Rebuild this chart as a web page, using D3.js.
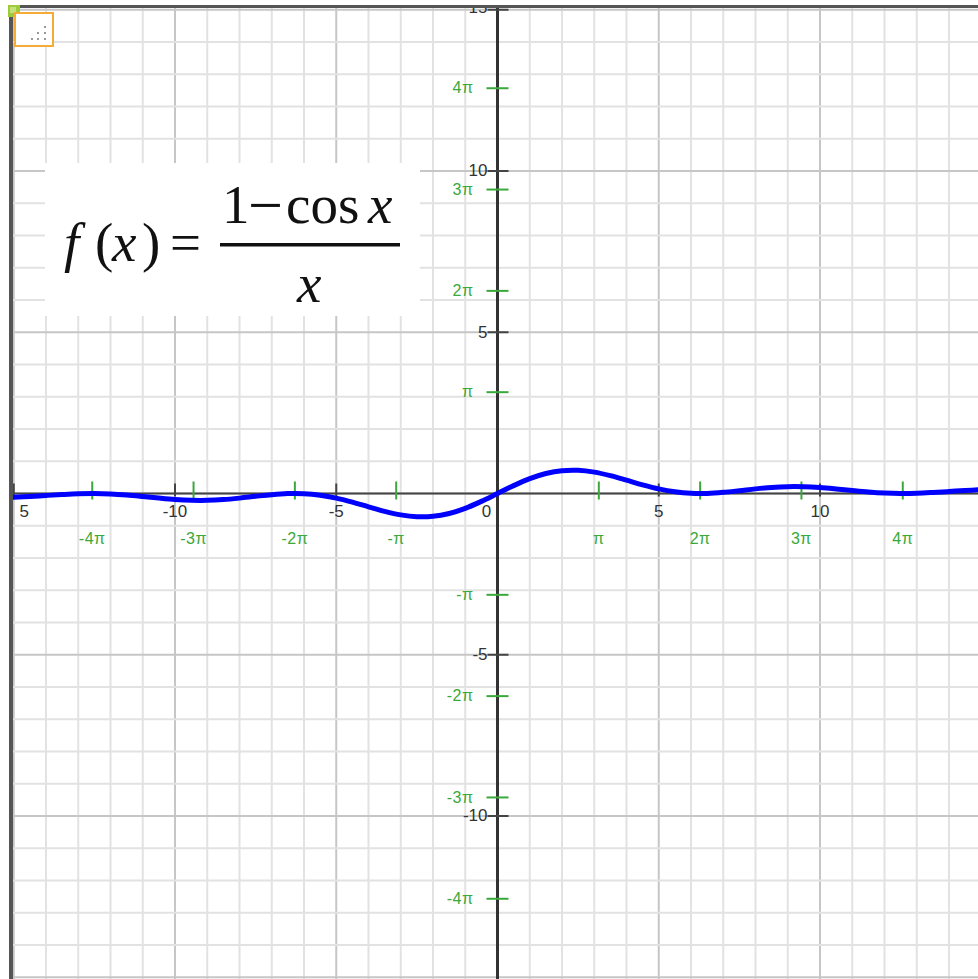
<!DOCTYPE html>
<html>
<head>
<meta charset="utf-8">
<script src="https://cdn.jsdelivr.net/npm/d3@7"></script>
<style>
  html, body { margin: 0; padding: 0; background: #fff; }
  svg { display: block; }
</style>
</head>
<body>
<svg id="chart" width="978" height="979"></svg>
<script>
// Sampled values of f(x) = (1 - cos x) / x
const xValues = [
  -15, -14.5, -14, -13.5, -13, -12.5, -12, -11.5, -11, -10.5, -10, -9.5, -9, -8.5, -8, -7.5,
  -7, -6.5, -6, -5.5, -5, -4.5, -4, -3.5, -3, -2.5, -2, -1.5, -1, -0.5,
  0, 0.5, 1, 1.5, 2, 2.5, 3, 3.5, 4, 4.5, 5, 5.5, 6, 6.5, 7, 7.5,
  8, 8.5, 9, 9.5, 10, 10.5, 11, 11.5, 12, 12.5, 13, 13.5, 14, 14.5, 15
];
const yValues = [
  -0.1173, -0.0938, -0.0617, -0.0311, -0.0071, -0.0002, -0.0130, -0.0451, -0.0905, -0.1405,
  -0.1839, -0.2102, -0.2124, -0.1885, -0.1432, -0.0871, -0.0352, -0.0036, -0.0066, -0.0530,
  -0.1433, -0.2691, -0.4134, -0.5533, -0.6633, -0.7205, -0.7081, -0.6195, -0.4597, -0.2448,
  0,
  0.2448, 0.4597, 0.6195, 0.7081, 0.7205, 0.6633, 0.5533, 0.4134, 0.2691, 0.1433,
  0.0530, 0.0066, 0.0036, 0.0352, 0.0871, 0.1432, 0.1885, 0.2124, 0.2102, 0.1839,
  0.1405, 0.0905, 0.0451, 0.0130, 0.0002, 0.0071, 0.0311, 0.0617, 0.0938, 0.1173
];

// Numeric axis ticks and π-multiple ticks
const xNumTicks = [-15, -10, -5, 0, 5, 10];
const xNumLabels = ["-15", "-10", "-5", "0", "5", "10"];
const yNumTicks = [15, 10, 5, -5, -10];
const yNumLabels = ["15", "10", "5", "-5", "-10"];
const piMultiples = [-4, -3, -2, -1, 1, 2, 3, 4];
const piTickLabels = ["-4π", "-3π", "-2π", "-π", "π", "2π", "3π", "4π"];
const gridValues = d3.range(-15, 16);

const svg = d3.select("#chart");
const W = 978, H = 979;

const x = d3.scaleLinear().domain([-15, 15]).range([13.75, 981.25]);
const y = d3.scaleLinear().domain([-15, 15]).range([977.25, 9.75]);

// plot clip (inside the frame)
const defs = svg.append("defs");
defs.append("clipPath").attr("id", "plotClip")
  .append("rect").attr("x", 13).attr("y", 8)
  .attr("width", W - 13).attr("height", H - 8);
defs.append("clipPath").attr("id", "labelClip")
  .append("rect").attr("x", 20).attr("y", 8)
  .attr("width", W - 20).attr("height", H - 8);

const plot = svg.append("g").attr("clip-path", "url(#plotClip)");

// grid
const grid = plot.append("g");
grid.selectAll("line.gx").data(gridValues).join("line")
  .attr("x1", d => x(d)).attr("x2", d => x(d))
  .attr("y1", 0).attr("y2", H)
  .attr("stroke", d => d % 5 === 0 ? "#c6c6c6" : "#e2e2e2")
  .attr("stroke-width", 2);
grid.selectAll("line.gy").data(gridValues).join("line")
  .attr("y1", d => y(d)).attr("y2", d => y(d))
  .attr("x1", 0).attr("x2", W)
  .attr("stroke", d => d % 5 === 0 ? "#c6c6c6" : "#e2e2e2")
  .attr("stroke-width", 2);

// axes lines
plot.append("line")
  .attr("x1", 0).attr("x2", W).attr("y1", y(0)).attr("y2", y(0))
  .attr("stroke", "#444").attr("stroke-width", 2);
plot.append("line")
  .attr("x1", x(0)).attr("x2", x(0)).attr("y1", 0).attr("y2", H)
  .attr("stroke", "#333").attr("stroke-width", 3);

const green = "#3aa83a";
const numFont = "'Liberation Sans', Arial, sans-serif";

// x-axis numeric ticks
const xNum = plot.append("g");
xNum.selectAll("line").data(xNumTicks.filter(d => d !== 0)).join("line")
  .attr("x1", d => x(d)).attr("x2", d => x(d))
  .attr("y1", y(0) - 10).attr("y2", y(0) + 3)
  .attr("stroke", "#444").attr("stroke-width", 2);
plot.append("g").attr("clip-path", "url(#labelClip)")
  .selectAll("text").data(xNumTicks).join("text")
  .attr("x", d => d === 0 ? x(0) - 11 : (d === -15 ? x(d) + 3 : x(d)))
  .attr("y", y(0) + 19)
  .attr("dominant-baseline", "middle")
  .attr("text-anchor", "middle")
  .attr("font-family", numFont).attr("font-size", 17).attr("fill", "#333")
  .text((d, i) => xNumLabels[i]);

// y-axis numeric ticks
const yNum = plot.append("g");
yNum.selectAll("line").data(yNumTicks).join("line")
  .attr("x1", x(0) - 10).attr("x2", x(0) + 11)
  .attr("y1", d => y(d)).attr("y2", d => y(d))
  .attr("stroke", "#444").attr("stroke-width", 2);
yNum.selectAll("text").data(yNumTicks).join("text")
  .attr("x", x(0) - 10)
  .attr("y", d => d === 15 ? y(d) - 1 : y(d) + 1)
  .attr("dominant-baseline", "middle")
  .attr("text-anchor", "end")
  .attr("font-family", numFont).attr("font-size", 17).attr("fill", "#333")
  .text((d, i) => yNumLabels[i]);

// π ticks on x axis
const xPi = plot.append("g");
xPi.selectAll("line").data(piMultiples).join("line")
  .attr("x1", d => x(d * Math.PI)).attr("x2", d => x(d * Math.PI))
  .attr("y1", y(0) - 12).attr("y2", y(0) + 6)
  .attr("stroke", green).attr("stroke-width", 2);
xPi.selectAll("text").data(piMultiples).join("text")
  .attr("x", d => x(d * Math.PI))
  .attr("y", y(0) + 46)
  .attr("dominant-baseline", "middle")
  .attr("text-anchor", "middle")
  .attr("font-family", numFont).attr("font-size", 16).attr("letter-spacing", 0.5)
  .attr("fill", green)
  .text((d, i) => piTickLabels[i]);

// π ticks on y axis
const yPi = plot.append("g");
yPi.selectAll("line").data(piMultiples).join("line")
  .attr("x1", x(0) - 11).attr("x2", x(0) + 11)
  .attr("y1", d => y(d * Math.PI)).attr("y2", d => y(d * Math.PI))
  .attr("stroke", green).attr("stroke-width", 2);
yPi.selectAll("text").data(piMultiples).join("text")
  .attr("x", x(0) - 24)
  .attr("y", d => y(d * Math.PI) + 1)
  .attr("dominant-baseline", "middle")
  .attr("text-anchor", "end")
  .attr("font-family", numFont).attr("font-size", 16).attr("letter-spacing", 0.5)
  .attr("fill", green)
  .text((d, i) => piTickLabels[i]);

// function curve
const pts = xValues.map((v, i) => [v, yValues[i]]);
const line = d3.line().x(d => x(d[0])).y(d => y(d[1])).curve(d3.curveCatmullRom);
plot.append("path")
  .attr("d", line(pts))
  .attr("fill", "none")
  .attr("stroke", "#0000ff")
  .attr("stroke-width", 5)
  .attr("stroke-linejoin", "round")
  .attr("stroke-linecap", "round");

// formula panel
const fg = svg.append("g");
fg.append("rect").attr("x", 45).attr("y", 163).attr("width", 375).attr("height", 153)
  .attr("fill", "#fff");
const serif = "'Liberation Serif', 'Times New Roman', serif";
const fs = 55;
function t(str, px, py, italic, size) {
  return fg.append("text").attr("x", px).attr("y", py)
    .attr("font-family", serif).attr("font-size", size || fs)
    .attr("font-style", italic ? "italic" : "normal")
    .attr("fill", "#111").text(str);
}
t("f", 64, 261, true);
t("(", 95, 261, false);
t("x", 112, 261, true);
t(")", 142, 261, false);
t("=", 170, 261, false);
t("1", 222, 223, false);
t("−", 248, 226, false, 62);
t("cos", 286, 223, false);
t("x", 368, 223, true);
fg.append("rect").attr("x", 220).attr("y", 243).attr("width", 180).attr("height", 3.5)
  .attr("fill", "#111");
t("x", 297, 302, true);

// frame
svg.append("rect").attr("x", 8).attr("y", 5).attr("width", W - 8).attr("height", 3)
  .attr("fill", "#555");
svg.append("rect").attr("x", 9).attr("y", 5).attr("width", 4).attr("height", H - 5)
  .attr("fill", "#555");

// corner handle and resize box
svg.append("rect").attr("x", 8).attr("y", 5).attr("width", 12).attr("height", 12)
  .attr("fill", "#9ccc3a");
svg.append("rect").attr("x", 10).attr("y", 7).attr("width", 6).attr("height", 6)
  .attr("fill", "#c4e27a");
svg.append("rect").attr("x", 15).attr("y", 13).attr("width", 38).attr("height", 33)
  .attr("fill", "#fff").attr("stroke", "#f5ab35").attr("stroke-width", 2);
const grip = [[45, 27], [38, 33], [45, 33], [32, 39], [38, 39], [45, 39]];
svg.append("g").selectAll("rect").data(grip).join("rect")
  .attr("x", d => d[0] - 1).attr("y", d => d[1] - 1)
  .attr("width", 2).attr("height", 2).attr("fill", "#999");
</script>
</body>
</html>
